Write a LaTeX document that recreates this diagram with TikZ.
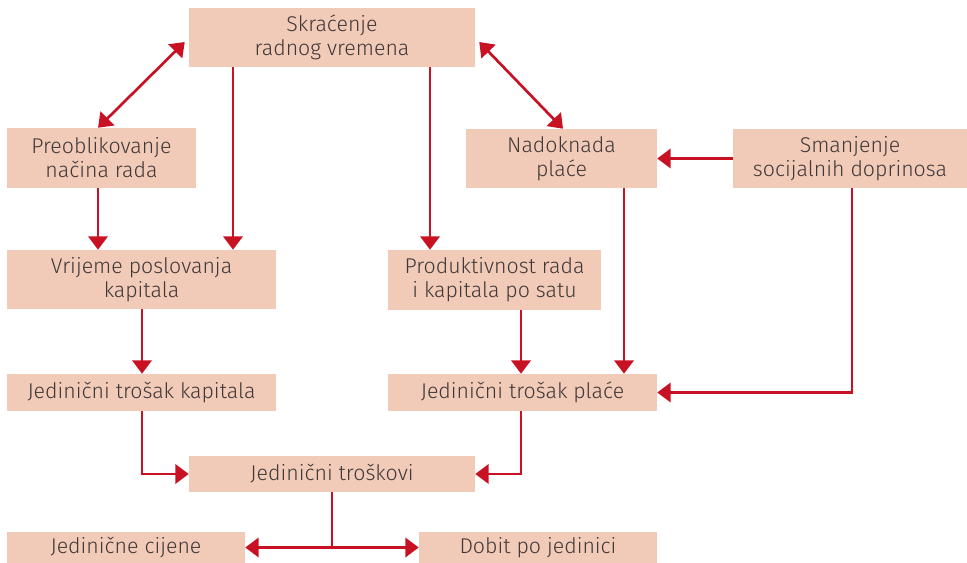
\documentclass[tikz,border=0pt]{standalone}
\usepackage{fontspec}
\setmainfont{Fira Sans Light}
\usepackage{tikz}
\usetikzlibrary{arrows.meta}
\usepackage{xcolor}
\definecolor{box-peach}{RGB}{242,202,184}
\definecolor{arrow-red}{RGB}{200,18,36}
\definecolor{text-grey}{RGB}{62,56,56}
\tikzstyle{factor}=[fill=box-peach, text=text-grey, align=center, inner sep=0pt, font=\fontsize{16}{18}\selectfont]
\tikzstyle{link}=[draw=arrow-red, line width=2pt, -{Triangle[width=14.5pt,length=10pt]}]
\tikzstyle{biglink}=[link, {Triangle[width=14.5pt,length=10pt]}-{Triangle[width=14.5pt,length=10pt]}]

\begin{document}
\begin{tikzpicture}[x=0.75pt, y=-0.75pt]
	\useasboundingbox (0,0) rectangle (967,563);
	\node[factor, minimum width=286*0.75pt, minimum height=59*0.75pt] (skr) at (332,37.5) {Skraćenje\\radnog vremena};
	\node[factor, minimum width=189*0.75pt, minimum height=60*0.75pt] (preo) at (101.5,158) {Preoblikovanje\\načina rada};
	\node[factor, minimum width=191*0.75pt, minimum height=59*0.75pt] (nad) at (561.5,158.5) {Nadoknada\\plaće};
	\node[factor, minimum width=234*0.75pt, minimum height=59*0.75pt] (sman) at (850,158.5) {Smanjenje\\socijalnih doprinosa};
	\node[factor, minimum width=269*0.75pt, minimum height=59*0.75pt] (vrij) at (141.5,279.5) {Vrijeme poslovanja\\kapitala};
	\node[factor, minimum width=213*0.75pt, minimum height=60*0.75pt] (prod) at (494.5,280) {Produktivnost rada\\i kapitala po satu};
	\node[factor, minimum width=269*0.75pt, minimum height=37*0.75pt] (tkap) at (141.5,392.5) {Jedinični trošak kapitala};
	\node[factor, minimum width=269*0.75pt, minimum height=37*0.75pt] (tpla) at (522.5,392.5) {Jedinični trošak plaće};
	\node[factor, minimum width=286*0.75pt, minimum height=36*0.75pt] (trosk) at (332,474) {Jedinični troškovi};
	\node[factor, minimum width=238*0.75pt, minimum height=31*0.75pt] (cij) at (126,547.5) {Jedinične cijene};
	\node[factor, minimum width=238*0.75pt, minimum height=31*0.75pt] (dob) at (538,547.5) {Dobit po jedinici};

	% from the top box
	\draw[biglink] (preo.north -| 98,0) -- ([xshift=-3pt]skr.west |- 0,42);
	\draw[biglink] (nad.north -| 563,0) -- ([xshift=3pt]skr.east |- 0,42);
	\draw[link] (skr.south -| 233,0) -- (vrij.north -| 233,0);
	\draw[link] (skr.south -| 430,0) -- (prod.north -| 430,0);
	\draw[link] (preo.south -| 98,0) -- (vrij.north -| 98,0);
	\draw[link] (sman.west) -- (nad.east);

	% costs
	\draw[link] (vrij.south -| 142,0) -- (tkap.north -| 142,0);
	\draw[link] (prod.south -| 521,0) -- (tpla.north -| 521,0);
	\draw[link] (nad.south -| 624,0) -- (tpla.north -| 624,0);
	\draw[link] (sman.south -| 852,0) |- (tpla.east);
	\draw[link] (tkap.south -| 142,0) |- (trosk.west);
	\draw[link] (tpla.south -| 521,0) |- (trosk.east);
	\draw[link] (trosk.south) |- (cij.east);
	\draw[link] (trosk.south) |- (dob.west);
\end{tikzpicture}
\end{document}
